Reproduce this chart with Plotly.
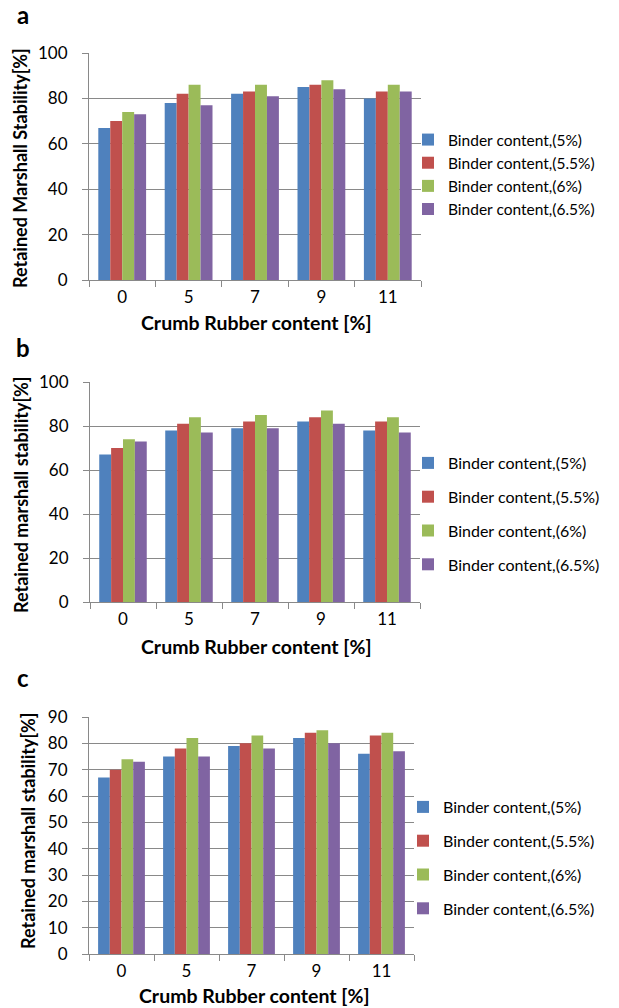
import plotly.graph_objects as go

categories = ["0", "5", "7", "9", "11"]
series_names = ["Binder content,(5%)", "Binder content,(5.5%)",
                "Binder content,(6%)", "Binder content,(6.5%)"]
colors = ["#4F81BD", "#C0504D", "#9BBB59", "#8064A2"]

# Panel a
a_5 = [67, 78, 82, 85, 80]
a_55 = [70, 82, 83, 86, 83]
a_6 = [74, 86, 86, 88, 86]
a_65 = [73, 77, 81, 84, 83]
# Panel b
b_5 = [67, 78, 79, 82, 78]
b_55 = [70, 81, 82, 84, 82]
b_6 = [74, 84, 85, 87, 84]
b_65 = [73, 77, 79, 81, 77]
# Panel c
c_5 = [67, 75, 79, 82, 76]
c_55 = [70, 78, 80, 84, 83]
c_6 = [74, 82, 83, 85, 84]
c_65 = [73, 75, 78, 80, 77]

W, H = 619, 1008
FONT = "Lato"
GRID = "#898989"

fig = go.Figure()

panels = [
    ("x", "y", "legend", [a_5, a_55, a_6, a_65]),
    ("x2", "y2", "legend2", [b_5, b_55, b_6, b_65]),
    ("x3", "y3", "legend3", [c_5, c_55, c_6, c_65]),
]
for pi, (xa, ya, lg, data) in enumerate(panels):
    for si, vals in enumerate(data):
        fig.add_trace(go.Bar(
            x=categories, y=vals, name=series_names[si],
            marker=dict(color=colors[si], line=dict(width=0)),
            xaxis=xa, yaxis=ya, legend=lg,
            legendgroup=f"p{pi}s{si}",
        ))

def px_x(v):
    return v / W

def px_y(v):
    return 1 - v / H

axis_common = dict(
    showline=True, linecolor=GRID, linewidth=1,
    ticks="outside", ticklen=6, tickcolor=GRID,
    tickfont=dict(family=FONT, size=17, color="#000"),
    automargin=False, fixedrange=True,
)

xdoms = [(89, 421), (90, 420), (89, 414)]
ydoms = [(53, 280), (382, 602), (717, 954)]
yranges = [(0, 100, 20), (0, 100, 20), (0, 90, 10)]

layout = dict(
    width=W, height=H, margin=dict(l=0, r=0, t=0, b=0),
    paper_bgcolor="white", plot_bgcolor="white",
    barmode="group", bargap=0.28, bargroupgap=0,
    showlegend=True,
    font=dict(family=FONT, color="#000"),
)
for i in range(3):
    sfx = "" if i == 0 else str(i + 1)
    layout["xaxis" + sfx] = dict(
        axis_common,
        domain=[px_x(xdoms[i][0]), px_x(xdoms[i][1])],
        anchor="y" + sfx, tickson="boundaries", ticklabelstandoff=2,
        showgrid=False,
    )
    r0, r1, dt = yranges[i]
    layout["yaxis" + sfx] = dict(
        axis_common,
        domain=[px_y(ydoms[i][1]), px_y(ydoms[i][0])],
        anchor="x" + sfx, range=[r0, r1], dtick=dt,
        showgrid=True, gridcolor=GRID, gridwidth=1,
        ticklabelstandoff=11, zeroline=False,
    )

leg_common = dict(
    font=dict(family=FONT, size=16, color="#000"),
    bgcolor="rgba(0,0,0,0)", xanchor="left", yanchor="top",
    traceorder="grouped",
)
layout["legend"] = dict(leg_common, x=px_x(408), y=px_y(123), tracegroupgap=0,
                        font=dict(family=FONT, size=15.5, color="#000"))
layout["legend2"] = dict(leg_common, x=px_x(408), y=px_y(446), tracegroupgap=10)
layout["legend3"] = dict(leg_common, x=px_x(403), y=px_y(790), tracegroupgap=10)

fig.update_layout(**layout)

annots = []
# panel letters
for lbl, yy in [("a", 15), ("b", 347), ("c", 677)]:
    annots.append(dict(text=f"<b>{lbl}</b>", x=px_x(23), y=px_y(yy),
                       xref="paper", yref="paper", showarrow=False,
                       xanchor="center", yanchor="middle",
                       font=dict(family=FONT, size=24, color="#000")))
# x titles
for yy, xc in [(322, 256), (646, 256), (995, 254)]:
    annots.append(dict(text="<b>Crumb Rubber content [%]</b>", x=px_x(xc), y=px_y(yy),
                       xref="paper", yref="paper", showarrow=False,
                       xanchor="center", yanchor="middle",
                       font=dict(family=FONT, size=19.5, color="#000")))
# y titles
for txt, xx, yy in [("Retained Marshall Stability[%]", 20, 168),
                    ("Retained marshall stability[%]", 21, 495),
                    ("Retained marshall stability[%]", 28, 831)]:
    annots.append(dict(text=f"<b>{txt}</b>", x=px_x(xx), y=px_y(yy),
                       xref="paper", yref="paper", showarrow=False,
                       xanchor="center", yanchor="middle", textangle=-90,
                       font=dict(family=FONT, size=18, color="#000")))
fig.update_layout(annotations=annots)

fig.write_html("out.html")
